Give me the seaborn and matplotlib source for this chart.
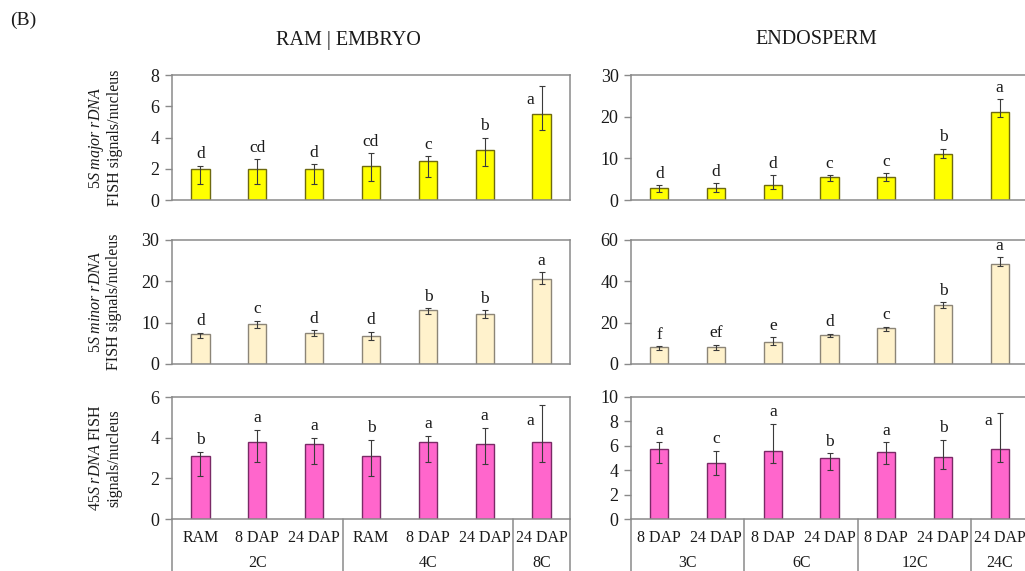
import numpy as np
import pandas as pd
import matplotlib
matplotlib.use("Agg")
import matplotlib.pyplot as plt
import seaborn as sns
from matplotlib.lines import Line2D

# ---------------- data ----------------
emb_conditions = ["RAM", "8 DAP", "24 DAP", "RAM", "8 DAP", "24 DAP", "24 DAP"]
emb_ploidy = ["2C", "2C", "2C", "4C", "4C", "4C", "8C"]
endo_conditions = ["8 DAP", "24 DAP", "8 DAP", "24 DAP", "8 DAP", "24 DAP", "24 DAP"]
endo_ploidy = ["3C", "3C", "6C", "6C", "12C", "12C", "24C"]

# 5S major rDNA
emb_major_mean = [2.0, 2.0, 2.0, 2.2, 2.5, 3.2, 5.5]
emb_major_lo = [1.0, 1.0, 1.0, 1.2, 1.5, 2.2, 4.5]
emb_major_hi = [2.2, 2.6, 2.3, 3.0, 2.8, 4.0, 7.3]
emb_major_letters = ["d", "cd", "d", "cd", "c", "b", "a"]

endo_major_mean = [3.0, 3.0, 3.6, 5.5, 5.6, 11.0, 21.2]
endo_major_lo = [2.0, 2.0, 2.6, 4.5, 4.5, 10.0, 20.0]
endo_major_hi = [3.6, 4.0, 6.0, 5.9, 6.4, 12.3, 24.2]
endo_major_letters = ["d", "d", "d", "c", "c", "b", "a"]

# 5S minor rDNA
emb_minor_mean = [7.2, 9.7, 7.6, 6.8, 13.0, 12.2, 20.5]
emb_minor_lo = [6.4, 8.8, 6.8, 5.9, 12.2, 11.2, 19.3]
emb_minor_hi = [7.6, 10.5, 8.2, 7.8, 13.5, 13.0, 22.2]
emb_minor_letters = ["d", "c", "d", "d", "b", "b", "a"]

endo_minor_mean = [8.0, 8.2, 10.5, 14.1, 17.3, 28.5, 48.5]
endo_minor_lo = [6.8, 6.8, 9.1, 13.3, 16.2, 27.2, 47.3]
endo_minor_hi = [8.7, 9.3, 13.0, 14.6, 18.0, 29.8, 51.7]
endo_minor_letters = ["f", "ef", "e", "d", "c", "b", "a"]

# 45S rDNA
emb_45s_mean = [3.1, 3.8, 3.7, 3.1, 3.8, 3.7, 3.8]
emb_45s_lo = [2.1, 2.8, 2.7, 2.1, 2.8, 2.7, 2.8]
emb_45s_hi = [3.3, 4.4, 4.0, 3.9, 4.1, 4.5, 5.6]
emb_45s_letters = ["b", "a", "a", "b", "a", "a", "a"]

endo_45s_mean = [5.7, 4.6, 5.6, 5.0, 5.5, 5.1, 5.7]
endo_45s_lo = [4.6, 3.6, 4.6, 4.0, 4.5, 4.1, 4.7]
endo_45s_hi = [6.3, 5.6, 7.8, 5.4, 6.3, 6.5, 8.7]
endo_45s_letters = ["a", "c", "a", "b", "a", "b", "a"]

row_labels = [r"$\it{5S\ major\ rDNA}$" + "\nFISH signals/nucleus",
              r"$\it{5S\ minor\ rDNA}$" + "\nFISH signals/nucleus",
              r"$\it{45S\ rDNA}$ FISH" + "\nsignals/nucleus"]

# ---------------- style ----------------
sns.set_theme(style="white")
plt.rcParams['font.family'] = ['Liberation Serif', 'DejaVu Serif']
plt.rcParams['mathtext.fontset'] = 'custom'
plt.rcParams['mathtext.rm'] = 'Liberation Serif'
plt.rcParams['mathtext.it'] = 'Liberation Serif:italic'

SPINE = "#8a8a8a"
row_colors = [("#FFFF00", "#6e6a10"), ("#FFF2CC", "#8c8577"), ("#FF66CC", "#7a2a66")]

W, H = 1025, 571
fig = plt.figure(figsize=(W / 100, H / 100), dpi=100)

rows_px = [(75, 200), (240, 364), (397, 519)]
cols_px = [(172, 570), (631, 1028)]

panels = [
    [(emb_major_mean, emb_major_lo, emb_major_hi, emb_major_letters, 8, 2),
     (endo_major_mean, endo_major_lo, endo_major_hi, endo_major_letters, 30, 10)],
    [(emb_minor_mean, emb_minor_lo, emb_minor_hi, emb_minor_letters, 30, 10),
     (endo_minor_mean, endo_minor_lo, endo_minor_hi, endo_minor_letters, 60, 20)],
    [(emb_45s_mean, emb_45s_lo, emb_45s_hi, emb_45s_letters, 6, 2),
     (endo_45s_mean, endo_45s_lo, endo_45s_hi, endo_45s_letters, 10, 2)],
]
col_conditions = [emb_conditions, endo_conditions]
col_ploidy = [emb_ploidy, endo_ploidy]

for r, (y0, y1) in enumerate(rows_px):
    for c, (x0, x1) in enumerate(cols_px):
        ax = fig.add_axes([x0 / W, 1 - y1 / H, (x1 - x0) / W, (y1 - y0) / H])
        mean, lo, hi, letters, ymax, step = panels[r][c]
        ids = [f"{p}|{cnd}|{i}" for i, (p, cnd) in enumerate(zip(col_ploidy[c], col_conditions[c]))]
        df = pd.DataFrame({"id": ids, "value": mean})
        face, edge = row_colors[r]
        sns.barplot(data=df, x="id", y="value", order=ids, color=face, saturation=1,
                    edgecolor=edge, linewidth=1.0, width=0.32, errorbar=None, ax=ax)
        x = np.arange(len(mean))
        m = np.array(mean); l = np.array(lo); h = np.array(hi)
        ax.errorbar(x, m, yerr=[m - l, h - m], fmt="none", ecolor="#3a3a3a",
                    elinewidth=0.8, capsize=2.0, capthick=0.8, zorder=5)
        for xi, hv, let in zip(x, hi, letters):
            if hv / ymax > 0.865:
                ax.text(xi - 0.2, ymax * 0.8, let, ha="center", va="center",
                        fontsize=12.5, color="#1a1a1a")
            else:
                ax.annotate(let, (xi, hv), xytext=(0, 2.5), textcoords="offset points",
                            ha="center", va="bottom", fontsize=12.5, color="#1a1a1a")
        ax.set_xlim(-0.5, len(mean) - 0.5)
        ax.set_ylim(0, ymax)
        ax.set_yticks(np.arange(0, ymax + step / 2, step))
        ax.set_xlabel("")
        ax.set_ylabel("")
        ax.tick_params(axis="y", which="both", left=True, length=5, width=1.0,
                       color=SPINE, labelsize=13, pad=4, labelcolor="#1a1a1a")
        ax.tick_params(axis="x", which="both", bottom=False, length=0)
        for s in ax.spines.values():
            s.set_color(SPINE)
            s.set_linewidth(1.1)
            s.set_visible(True)
        if c == 1:
            ax.spines["right"].set_visible(False)
        ax.set_facecolor("white")
        ax.patch.set_alpha(0)

        if r == 2:
            ax.set_xticks([])
            xt = ax.get_xaxis_transform()
            for xi, cnd in zip(x, col_conditions[c]):
                ax.text(xi, -0.156, cnd, transform=xt, ha="center", va="center",
                        fontsize=11.5, color="#1a1a1a")
            # group labels and separators
            groups = []
            for i, p in enumerate(col_ploidy[c]):
                if groups and groups[-1][0] == p:
                    groups[-1][2] = i
                else:
                    groups.append([p, i, i])
            bounds = [-0.5] + [g[2] + 0.5 for g in groups]
            for b in bounds:
                ax.add_line(Line2D([b, b], [0, -0.5], transform=xt, color=SPINE,
                                   linewidth=1.1, clip_on=False))
            for p, i0, i1 in groups:
                ax.text((i0 + i1) / 2, -0.36, p, transform=xt, ha="center", va="center",
                        fontsize=11.5, color="#1a1a1a")
        else:
            ax.set_xticks([])

        if c == 0:
            fig.text(105 / W, 1 - (y0 + y1) / 2 / H, row_labels[r], rotation=90,
                     ha="center", va="center", multialignment="center",
                     fontsize=11.5, linespacing=1.15, color="#1a1a1a")

fig.text(348 / W, 1 - 40 / H, "RAM | EMBRYO", ha="center", va="center",
         fontsize=14.5, color="#1a1a1a")
fig.text(816 / W, 1 - 40 / H, "ENDOSPERM", ha="center", va="center",
         fontsize=14.5, color="#1a1a1a")
fig.text(10 / W, 1 - 20 / H, "(B)", ha="left", va="center", fontsize=14, color="#1a1a1a")

fig.savefig("out.png", dpi=100, facecolor="white")
